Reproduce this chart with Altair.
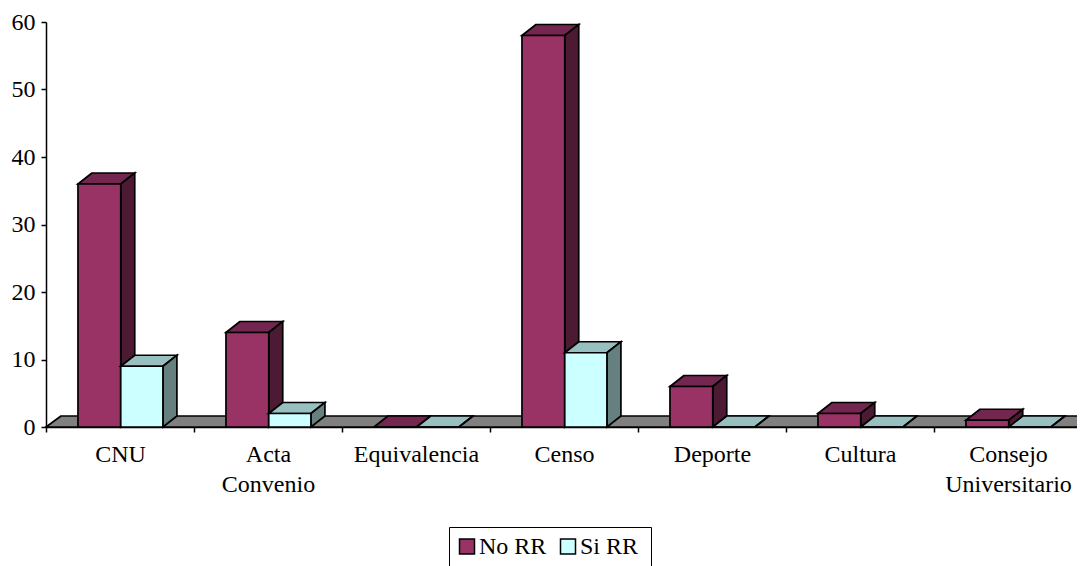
import altair as alt
import pandas as pd

categories = ["CNU", "Acta|Convenio", "Equivalencia", "Censo", "Deporte", "Cultura", "Consejo|Universitario"]
no_rr = [36, 14, 0, 58, 6, 2, 1]
si_rr = [9, 2, 0, 11, 0, 0, 0]
series_names = ["No RR", "Si RR"]
front_colors = ["#993366", "#CCFFFF"]
top_colors = ["#732650", "#99C0C0"]
side_colors = ["#4D1A33", "#668080"]
slot_edges = [(0.216, 0.505), (0.505, 0.79)]

PX_X = 148.0
PX_Y = 405 / 60
DX = 14 / PX_X
DY = 11 / PX_Y
FLOOR_DX = 15 / PX_X
N = len(categories)

x_scale = alt.Scale(domain=[0, N], range=[0, 1036], nice=False, zero=False)
y_scale = alt.Scale(domain=[0, 60], range=[405, 0], nice=False)
FONT = "Liberation Serif"
FS = 24
SW = 1.7


def front_df(vals, edge):
    return pd.DataFrame([{"x0": i + edge[0], "x1": i + edge[1], "v": v, "base": 0} for i, v in enumerate(vals)])


def side_df(vals, edge):
    rows = []
    for i, v in enumerate(vals):
        x = i + edge[1]
        rows.append({"id": i, "x": x, "lo": 0, "hi": v})
        rows.append({"id": i, "x": x + DX, "lo": DY, "hi": v + DY})
    return pd.DataFrame(rows)


def top_df(vals, edge):
    rows = []
    for i, v in enumerate(vals):
        rows.append({"id": i, "y": v, "a": i + edge[0], "b": i + edge[1]})
        rows.append({"id": i, "y": v + DY, "a": i + edge[0] + DX, "b": i + edge[1] + DX})
    return pd.DataFrame(rows)


floor = alt.Chart(pd.DataFrame([
    {"y": 0, "a": 0, "b": N},
    {"y": DY, "a": FLOOR_DX, "b": N + FLOOR_DX},
])).mark_area(orient="horizontal", color="#808080", stroke="black", strokeWidth=SW).encode(
    y=alt.Y("y:Q", scale=y_scale, title=None, axis=alt.Axis(
        values=[0, 10, 20, 30, 40, 50, 60], labelFont=FONT, labelFontSize=FS, labelColor="black",
        domainColor="black", domainWidth=1.5, tickColor="black", tickWidth=1.5, tickSize=5,
        labelPadding=6, grid=False, labelBound=False, labelFlush=False)),
    x=alt.X("a:Q", scale=x_scale, title=None, axis=alt.Axis(
        values=list(range(N + 1)),
        labelExpr="split(" + str(categories + [""]) + "[datum.value], '|')",
        labelOffset=74, labelFont=FONT, labelFontSize=FS, labelColor="black", labelOverlap=False,
        labelBound=False, labelFlush=False, labelPadding=10, labelLineHeight=30,
        domainColor="black", domainWidth=1.5, tickColor="black", tickWidth=1.5, tickSize=5, grid=False)),
    x2="b:Q",
)

layers = [floor]
for idx, vals in enumerate([no_rr, si_rr]):
    edge = slot_edges[idx]
    top = alt.Chart(top_df(vals, edge)).mark_area(
        orient="horizontal", color=top_colors[idx], stroke="black", strokeWidth=SW
    ).encode(y=alt.Y("y:Q", scale=y_scale), x=alt.X("a:Q", scale=x_scale), x2="b:Q", detail="id:N")
    side = alt.Chart(side_df(vals, edge)).mark_area(
        orient="vertical", color=side_colors[idx], stroke="black", strokeWidth=SW
    ).encode(x=alt.X("x:Q", scale=x_scale), y=alt.Y("lo:Q", scale=y_scale), y2="hi:Q", detail="id:N")
    fd = front_df(vals, edge)
    fd["series"] = series_names[idx]
    front = alt.Chart(fd).mark_rect(stroke="black", strokeWidth=SW).encode(
        x=alt.X("x0:Q", scale=x_scale),
        x2="x1:Q",
        y=alt.Y("v:Q", scale=y_scale),
        y2="base:Q",
        color=alt.Color("series:N", scale=alt.Scale(domain=series_names, range=front_colors), legend=alt.Legend(
            title="\u00a0", titleOrient="right", titlePadding=7, titleFontSize=10, titleFont=FONT,
            orient="none", legendX=403, legendY=505, direction="horizontal",
            symbolType="square", symbolSize=225, symbolStrokeColor="black", symbolStrokeWidth=1.5,
            labelFont=FONT, labelFontSize=FS, labelColor="black", labelOffset=0, clipHeight=27,
            strokeColor="black", fillColor="white", padding=6, columnPadding=9)),
    )
    layers += [top, side, front]

chart = alt.layer(*layers).properties(
    width=1031, height=405,
    padding={"left": 38, "top": 14, "right": 0, "bottom": 139},
    autosize=alt.AutoSizeParams(type="none"),
    background="white",
).configure_view(stroke=None)

chart.save("out.html", embed_options={"renderer": "svg", "actions": False})
